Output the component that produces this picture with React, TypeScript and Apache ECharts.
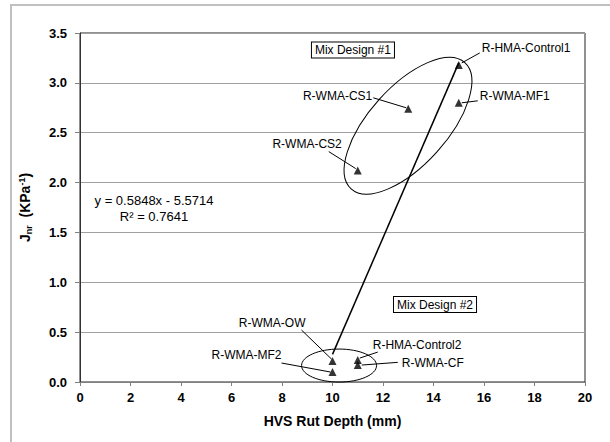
import React, { useEffect, useRef } from "react";
import * as echarts from "echarts";

// ---- data ----
const mixNames = [
  "R-HMA-Control1",
  "R-WMA-MF1",
  "R-WMA-CS1",
  "R-WMA-CS2",
  "R-WMA-OW",
  "R-WMA-MF2",
  "R-HMA-Control2",
  "R-WMA-CF",
];
const rutDepth = [15, 15, 13, 11, 10, 10, 11, 11];
const jnrValues = [3.18, 2.8, 2.74, 2.12, 0.21, 0.1, 0.22, 0.17];

const trendSlope = 0.5848;
const trendIntercept = -5.5714;
const trendR2 = 0.7641;
const trendXRange = [10, 15];

const groupLabels = ["Mix Design #1", "Mix Design #2"];

// ---- annotation layout (not data) ----
const FONT = "'Liberation Sans', Arial, Helvetica, sans-serif";

// label offsets (px) relative to each point
const labelLayout = [
  { align: "left", dx: 23, dy: -17, from: [21, -12], to: [3, -2] },
  { align: "left", dx: 21, dy: -7, from: [19, -2], to: [3, 0] },
  { align: "right", dx: -36, dy: -13, from: [-35, -11], to: [-2, -1] },
  { align: "right", dx: -16, dy: -27, from: [-29, -19], to: [-2, -2] },
  { align: "right", dx: -27, dy: -38, from: [-31, -31], to: [-1, -2] },
  { align: "right", dx: -51, dy: -17, from: [-51, -9], to: [-2, 0] },
  { align: "left", dx: 15, dy: -15, from: [20, -8], to: [2, -2] },
  { align: "left", dx: 44, dy: -2.5, from: [40, -2.7], to: [4, 0] },
];
const groupBoxAnchors = [
  [10.81, 3.33],
  [14.06, 0.777],
];
const equationAnchor = [2.93, 1.74];
const ellipses = [
  { center: [12.99, 2.57], rx: 85, ry: 39, rotationDeg: 48 },
  { center: [10.26, 0.165], rx: 37.5, ry: 16.5, rotationDeg: 0 },
];

export default function App() {
  const ref = useRef<HTMLDivElement>(null);

  useEffect(() => {
    const chart = echarts.init(ref.current!, null, { renderer: "svg" });

    const points = rutDepth.map((x, i) => [x, jnrValues[i]]);
    const trendPoints = trendXRange.map((x) => [x, trendSlope * x + trendIntercept]);

    chart.setOption({
      animation: false,
      backgroundColor: "#ffffff",
      textStyle: { fontFamily: FONT },
      grid: {
        left: 80,
        right: 25,
        top: 33,
        bottom: 60,
        show: true,
        borderColor: "#222",
        borderWidth: 1,
        backgroundColor: "#ffffff",
      },
      xAxis: {
        type: "value",
        min: 0,
        max: 20,
        interval: 2,
        name: "HVS Rut Depth (mm)",
        nameLocation: "middle",
        nameGap: 32,
        nameTextStyle: { fontSize: 14, fontWeight: "bold", color: "#000", fontFamily: FONT },
        axisLine: { show: true, lineStyle: { color: "#808080", width: 1 } },
        axisTick: { show: true, length: 4, lineStyle: { color: "#808080" } },
        axisLabel: { fontSize: 13, fontWeight: "bold", color: "#000", margin: 9, fontFamily: FONT },
        splitLine: { show: false },
      },
      yAxis: {
        type: "value",
        min: 0,
        max: 3.5,
        interval: 0.5,
        name: "{b|J}{s|nr}{b|  (KPa}{p|-1}{b|)}",
        nameLocation: "middle",
        nameRotate: 90,
        nameGap: 47,
        nameTextStyle: {
          color: "#000",
          rich: {
            b: { fontSize: 14, fontWeight: "bold", color: "#000", fontFamily: FONT },
            s: { fontSize: 9, fontWeight: "bold", color: "#000", fontFamily: FONT, padding: [7, 0, 0, 0] },
            p: { fontSize: 9, fontWeight: "bold", color: "#000", fontFamily: FONT, padding: [0, 0, 7, 0] },
          },
        },
        axisLine: { show: true, lineStyle: { color: "#333", width: 1 } },
        axisTick: { show: true, length: 5, lineStyle: { color: "#808080" } },
        axisLabel: {
          fontSize: 13,
          fontWeight: "bold",
          color: "#000",
          margin: 13,
          fontFamily: FONT,
          formatter: (v: number) => v.toFixed(1),
        },
        splitLine: { show: true, lineStyle: { color: "#a0a0a0", width: 1 } },
      },
      series: [
        {
          type: "line",
          data: trendPoints,
          symbol: "none",
          lineStyle: { color: "#000", width: 1.5 },
          z: 2,
        },
        {
          type: "scatter",
          data: points,
          symbol: "triangle",
          symbolSize: 8,
          itemStyle: { color: "#000" },
          z: 3,
        },
      ],
    });

    const px = (x: number, y: number) =>
      chart.convertToPixel({ gridIndex: 0 }, [x, y]) as unknown as number[];

    const graphics: any[] = [];

    // outer frame
    graphics.push({
      type: "rect",
      shape: { x: 11, y: 5, width: 700, height: 600 },
      style: { fill: "none", stroke: "#c0c0c0", lineWidth: 2 },
      silent: true,
    });

    // ellipses
    ellipses.forEach((e) => {
      const c = px(e.center[0], e.center[1]);
      graphics.push({
        type: "ellipse",
        x: c[0],
        y: c[1],
        rotation: (e.rotationDeg * Math.PI) / 180,
        shape: { cx: 0, cy: 0, rx: e.rx, ry: e.ry },
        style: { fill: "none", stroke: "#000", lineWidth: 1 },
        z: 10,
      });
    });

    // point labels + leader lines
    points.forEach((p, i) => {
      const c = px(p[0], p[1]);
      const l = labelLayout[i];
      graphics.push({
        type: "line",
        shape: {
          x1: c[0] + l.from[0],
          y1: c[1] + l.from[1],
          x2: c[0] + l.to[0],
          y2: c[1] + l.to[1],
        },
        style: { stroke: "#000", lineWidth: 1 },
        z: 10,
      });
      graphics.push({
        type: "text",
        x: c[0] + l.dx,
        y: c[1] + l.dy,
        style: {
          text: mixNames[i],
          fill: "#000",
          font: `12px ${FONT}`,
          align: l.align,
          textAlign: l.align,
          verticalAlign: "middle",
          textVerticalAlign: "middle",
        },
        z: 11,
      });
    });

    // group boxes
    groupLabels.forEach((g, i) => {
      const c = px(groupBoxAnchors[i][0], groupBoxAnchors[i][1]);
      graphics.push({
        type: "text",
        x: c[0],
        y: c[1],
        style: {
          text: g,
          fill: "#000",
          font: `12px ${FONT}`,
          align: "center",
          textAlign: "center",
          verticalAlign: "middle",
          textVerticalAlign: "middle",
          backgroundColor: "#fff",
          borderColor: "#000",
          borderWidth: 1,
          padding: [2, 3, 1, 3],
        },
        z: 11,
      });
    });

    // trend equation
    const eq = px(equationAnchor[0], equationAnchor[1]);
    const sign = trendIntercept < 0 ? "-" : "+";
    graphics.push({
      type: "text",
      x: eq[0],
      y: eq[1],
      style: {
        text: `y = ${trendSlope.toFixed(4)}x ${sign} ${Math.abs(trendIntercept).toFixed(4)}\nR² = ${trendR2.toFixed(4)}`,
        fill: "#000",
        font: `13px ${FONT}`,
        lineHeight: 16,
        align: "center",
        textAlign: "center",
        verticalAlign: "middle",
        textVerticalAlign: "middle",
      },
      z: 11,
    });

    chart.setOption({ graphic: graphics });

    return () => chart.dispose();
  }, []);

  return (
    <div
      ref={ref}
      style={{ position: "fixed", left: 0, top: 0, width: 610, height: 442, background: "#fff" }}
    />
  );
}
